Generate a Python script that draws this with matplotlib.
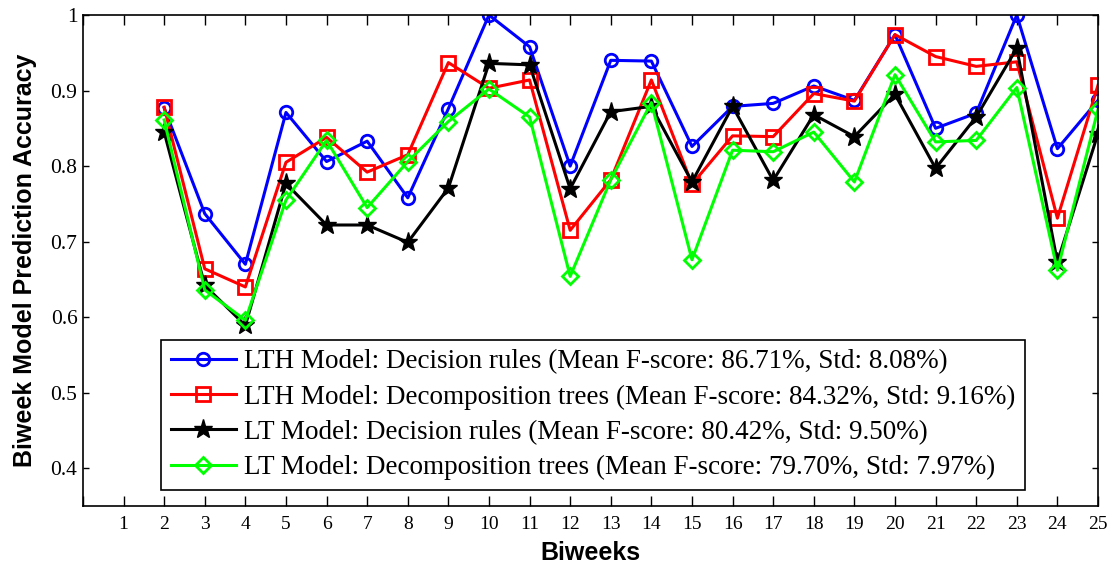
import matplotlib
matplotlib.use("Agg")
import matplotlib.pyplot as plt

biweeks = list(range(2, 26))

lth_rules = [0.877, 0.737, 0.670, 0.871, 0.806, 0.833, 0.758, 0.876, 1.000, 0.958,
             0.800, 0.940, 0.939, 0.826, 0.879, 0.883, 0.906, 0.887, 0.974, 0.850,
             0.870, 1.000, 0.823, 0.887]
lth_trees = [0.878, 0.664, 0.640, 0.805, 0.838, 0.792, 0.815, 0.937, 0.903, 0.914,
             0.715, 0.782, 0.914, 0.776, 0.840, 0.839, 0.896, 0.886, 0.974, 0.945,
             0.932, 0.938, 0.731, 0.907]
lt_rules = [0.845, 0.642, 0.589, 0.777, 0.722, 0.722, 0.699, 0.771, 0.936, 0.934,
            0.770, 0.872, 0.879, 0.779, 0.879, 0.781, 0.868, 0.839, 0.895, 0.797,
            0.865, 0.956, 0.673, 0.843]
lt_trees = [0.861, 0.636, 0.596, 0.755, 0.834, 0.745, 0.806, 0.859, 0.902, 0.865,
            0.654, 0.782, 0.884, 0.676, 0.821, 0.819, 0.845, 0.779, 0.921, 0.832,
            0.834, 0.904, 0.662, 0.875]

series_labels = [
    "LTH Model: Decision rules (Mean F-score: 86.71%, Std: 8.08%)",
    "LTH Model: Decomposition trees (Mean F-score: 84.32%, Std: 9.16%)",
    "LT Model: Decision rules (Mean F-score: 80.42%, Std: 9.50%)",
    "LT Model: Decomposition trees (Mean F-score: 79.70%, Std: 7.97%)",
]

x_ticks = list(range(0, 26))
x_ticklabels = [""] + [str(i) for i in range(1, 26)]
y_ticks = [0.4, 0.5, 0.6, 0.7, 0.8, 0.9, 1.0]
y_ticklabels = ["0.4", "0.5", "0.6", "0.7", "0.8", "0.9", "1"]

serif = ["Liberation Serif", "DejaVu Serif"]
sans = ["Liberation Sans", "DejaVu Sans"]

fig = plt.figure(figsize=(11.12, 5.66), dpi=100)
ax = fig.add_axes([0.0746, 0.106, 0.9128, 0.8675])

styles = [
    dict(color="#0000ff", marker="o", markersize=9, markerfacecolor="none", markeredgewidth=2),
    dict(color="#ff0000", marker="s", markersize=9.5, markerfacecolor="none", markeredgewidth=2),
    dict(color="#000000", marker="*", markersize=14, markerfacecolor="#000000", markeredgewidth=1),
    dict(color="#00ff00", marker="D", markersize=8, markerfacecolor="none", markeredgewidth=2),
]
for ys, st, lab in zip([lth_rules, lth_trees, lt_rules, lt_trees], styles, series_labels):
    ax.plot(biweeks, ys, linewidth=2.2, label=lab, **st)

ax.set_xlim(0, 25)
ax.set_ylim(0.35, 1.0)
ax.set_xticks(x_ticks)
ax.set_xticklabels(x_ticklabels, fontfamily=serif, fontsize=14)
ax.set_yticks(y_ticks)
ax.set_yticklabels(y_ticklabels, fontfamily=serif, fontsize=15.5)
ax.tick_params(axis="x", direction="in", length=7, width=1, top=True, pad=7)
ax.tick_params(axis="y", direction="in", length=4, width=1, right=True, pad=4)
for sp in ax.spines.values():
    sp.set_linewidth(1.2)

ax.set_xlabel("Biweeks", fontfamily=sans, fontweight="bold", fontsize=18, labelpad=6)
ax.set_ylabel("Biweek Model Prediction Accuracy", fontfamily=sans, fontweight="bold",
              fontsize=18, labelpad=10)

leg = ax.legend(loc="lower left", bbox_to_anchor=(0.077, 0.033), borderaxespad=0,
                prop={"family": serif, "size": 19.5}, fancybox=False, framealpha=1,
                edgecolor="black", handlelength=2.4, handletextpad=0.3,
                labelspacing=0.38, borderpad=0.35)
leg.get_frame().set_linewidth(1.2)

fig.savefig("out.png", dpi=100)
